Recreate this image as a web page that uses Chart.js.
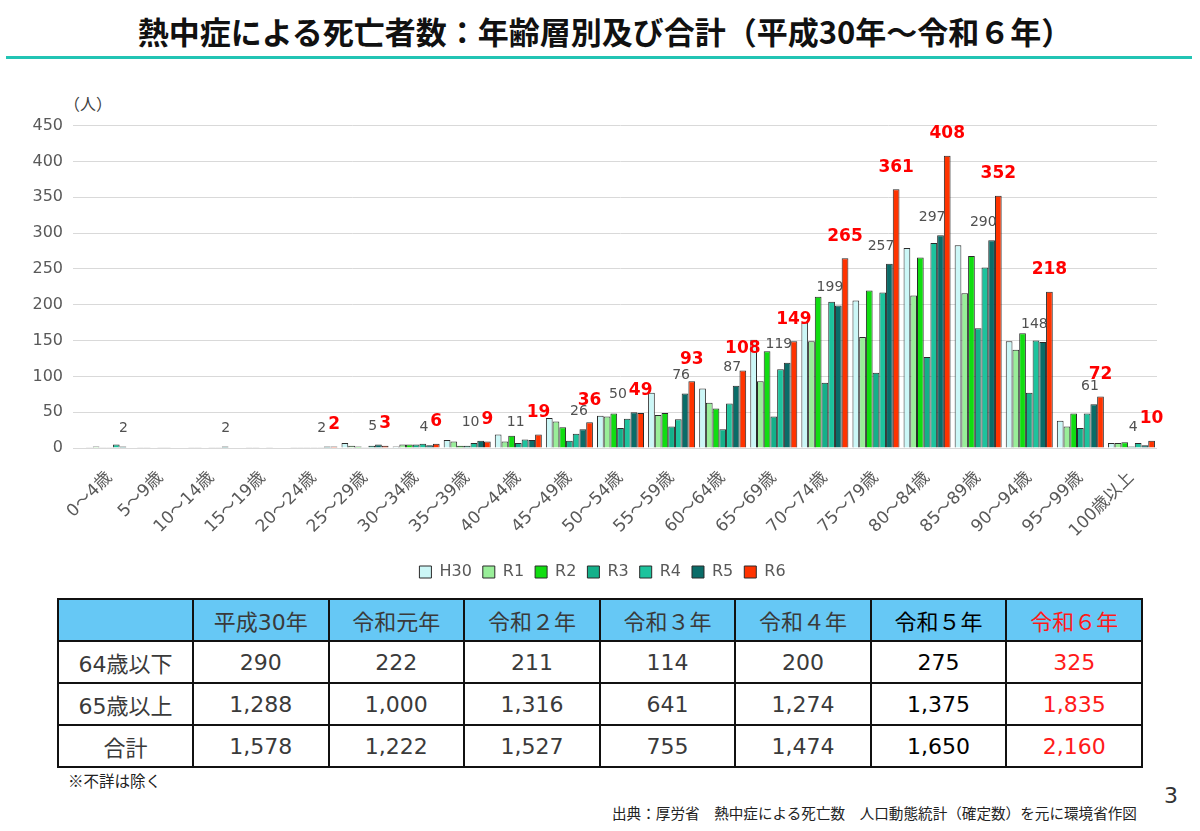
<!DOCTYPE html>
<html><head><meta charset="utf-8">
<script src="https://cdn.jsdelivr.net/npm/chart.js@4.4.1/dist/chart.umd.min.js"></script>
<style>
html,body{margin:0;padding:0;background:#fff;width:1200px;height:831px;overflow:hidden;font-family:"Noto Sans CJK JP",sans-serif;}
#title{position:absolute;left:5px;top:11px;width:1200px;text-align:center;font-size:31px;font-weight:bold;color:#111;line-height:40px;}
#rule{position:absolute;left:6px;top:56px;width:1186px;height:3px;background:#22c4b4;}
#unit{position:absolute;left:64px;top:91px;font-size:16px;color:#404040;}
#chartBox{position:absolute;left:0;top:106px;width:1200px;height:484px;}
table{position:absolute;left:57px;top:598px;width:1086px;height:165px;border-collapse:collapse;table-layout:fixed;font-family:"DejaVu Sans","Noto Sans CJK JP",sans-serif;font-size:22px;}
td,th{border:2px solid #111;text-align:center;color:#3a3a3a;font-weight:normal;padding:0;height:40px;}
th{background:#66c8f5;}
.c5{color:#000;}
.c6{color:#ff1a1a;}
#note{position:absolute;left:68px;top:769px;font-size:15.5px;color:#222;}
#src{position:absolute;left:612px;top:802px;font-size:14.6px;color:#222;}
#page{position:absolute;left:1164px;top:783px;font-size:22px;color:#333;font-family:"DejaVu Sans",sans-serif;}
</style></head>
<body>
<div id="title">熱中症による死亡者数：年齢層別及び合計（平成30年～令和６年）</div>
<div id="rule"></div>
<div id="unit">（人）</div>
<div id="chartBox"><canvas id="c" width="1200" height="484"></canvas></div>
<table id="tbl"></table>
<div id="note">※不詳は除く</div>
<div id="src">出典：厚労省　熱中症による死亡数　人口動態統計（確定数）を元に環境省作図</div>
<div id="page">3</div>
<script>
const categories = ['0～4歳','5～9歳','10～14歳','15～19歳','20～24歳','25～29歳','30～34歳','35～39歳','40～44歳','45～49歳','50～54歳','55～59歳','60～64歳','65～69歳','70～74歳','75～79歳','80～84歳','85～89歳','90～94歳','95～99歳','100歳以上'];
const seriesNames = ['H30','R1','R2','R3','R4','R5','R6'];
const H30 = [1,1,1,0,1,7,2,11,19,42,45,77,83,151,175,206,279,283,149,38,7];
const R1  = [2,1,1,1,1,3,5,9,9,37,44,46,63,93,149,155,213,216,137,30,7];
const R2  = [1,0,0,1,1,2,5,3,17,29,48,49,55,135,211,220,266,268,160,48,8];
const R3  = [1,1,1,0,1,1,5,3,7,10,28,30,26,44,91,105,127,167,77,28,2];
const R4  = [5,1,1,1,1,3,6,7,12,20,41,40,62,110,204,217,286,252,150,48,7];
const R5  = [2,0,2,0,2,5,4,10,11,26,50,76,87,119,199,257,297,290,148,61,4];
const R6  = [0,0,0,0,2,3,6,9,19,36,49,93,108,149,265,361,408,352,218,72,10];
const yTicks = [0,50,100,150,200,250,300,350,400,450];

const tableCols = ['平成30年','令和元年','令和２年','令和３年','令和４年','令和５年','令和６年'];
const rowNames = ['64歳以下','65歳以上','合計'];
const under64 = ['290','222','211','114','200','275','325'];
const over65 = ['1,288','1,000','1,316','641','1,274','1,375','1,835'];
const totals = ['1,578','1,222','1,527','755','1,474','1,650','2,160'];

const colors = ['#ccf7f7','#99ee99','#11dd11','#14b08a','#1dc39d','#0a6c68','#ff3300'];
const seriesData = [H30,R1,R2,R3,R4,R5,R6];

(function(){
  const t = document.getElementById('tbl');
  const cls = i => i===5 ? 'c5' : (i===6 ? 'c6' : '');
  let h = '<colgroup><col style="width:135px">' + tableCols.map(()=> '<col>').join('') + '</colgroup>';
  h += '<tr><th></th>' + tableCols.map((c,i)=>'<th class="'+cls(i)+'">'+c+'</th>').join('') + '</tr>';
  [under64,over65,totals].forEach((row,r)=>{
    h += '<tr><td>'+rowNames[r]+'</td>' + row.map((v,i)=>'<td class="'+cls(i)+'">'+v+'</td>').join('') + '</tr>';
  });
  t.innerHTML = h;
})();

Chart.defaults.font.family = '"DejaVu Sans","Noto Sans CJK JP",sans-serif';

const labelPlugin = {
  id:'valLabels',
  afterLayout(chart){
    if (chart.legend){ chart.legend.left += 24; chart.legend.right += 24; }
  },
  afterDatasetsDraw(chart){
    const ctx = chart.ctx;
    const m5 = chart.getDatasetMeta(5), m6 = chart.getDatasetMeta(6);
    ctx.save();
    ctx.textBaseline = 'middle';
    categories.forEach((c,i)=>{
      const v5 = R5[i], v6 = R6[i];
      let r6box = null;
      if (v6 > 0){
        const b = m6.data[i];
        ctx.font = 'bold 17px "DejaVu Sans"';
        const w = ctx.measureText(String(v6)).width;
        const cy = b.y - 22;
        ctx.fillStyle = '#ff0000';
        ctx.textAlign = 'center';
        ctx.fillText(String(v6), b.x, cy);
        r6box = {l:b.x - w/2, r:b.x + w/2, t:cy-6, btm:cy+6};
      }
      if (v5 > 0){
        const b = m5.data[i];
        ctx.font = '14px "DejaVu Sans"';
        const cy = b.y - 18;
        let right = b.x + 5;
        if (r6box && !(cy+5 < r6box.t || cy-5 > r6box.btm) && right > r6box.l - 1){
          right = r6box.l - 2;
        }
        ctx.fillStyle = '#505050';
        ctx.textAlign = 'right';
        ctx.fillText(String(v5), right, cy);
      }
    });
    ctx.restore();
  }
};

new Chart(document.getElementById('c'), {
  type:'bar',
  data:{
    labels: categories,
    datasets: seriesNames.map((n,i)=>({
      label:n, data:seriesData[i], backgroundColor:colors[i],
      borderColor:'#2a2a2a', borderWidth:1, categoryPercentage:0.92, barPercentage:1.0
    }))
  },
  options:{
    responsive:false, animation:false,
    layout:{padding:{top:11,right:43,left:0,bottom:0}},
    plugins:{
      tooltip:{enabled:false},
      legend:{position:'bottom',labels:{boxWidth:12,boxHeight:12,padding:11,color:'#595959',font:{size:16}}}
    },
    scales:{
      x:{
        grid:{display:false}, border:{display:false},
        ticks:{minRotation:45,maxRotation:45,autoSkip:false,color:'#595959',font:{size:17},padding:12},
        afterFit:s=>{s.height=105;}
      },
      y:{
        min:0,max:450,
        afterBuildTicks:s=>{s.ticks = yTicks.map(v=>({value:v}));},
        ticks:{color:'#595959',font:{size:16},padding:10},
        grid:{color:'#d9d9d9',tickLength:11,drawTicks:true},
        border:{display:false},
        afterFit:s=>{s.width=84;}
      }
    }
  },
  plugins:[labelPlugin]
});
</script>
</body></html>
